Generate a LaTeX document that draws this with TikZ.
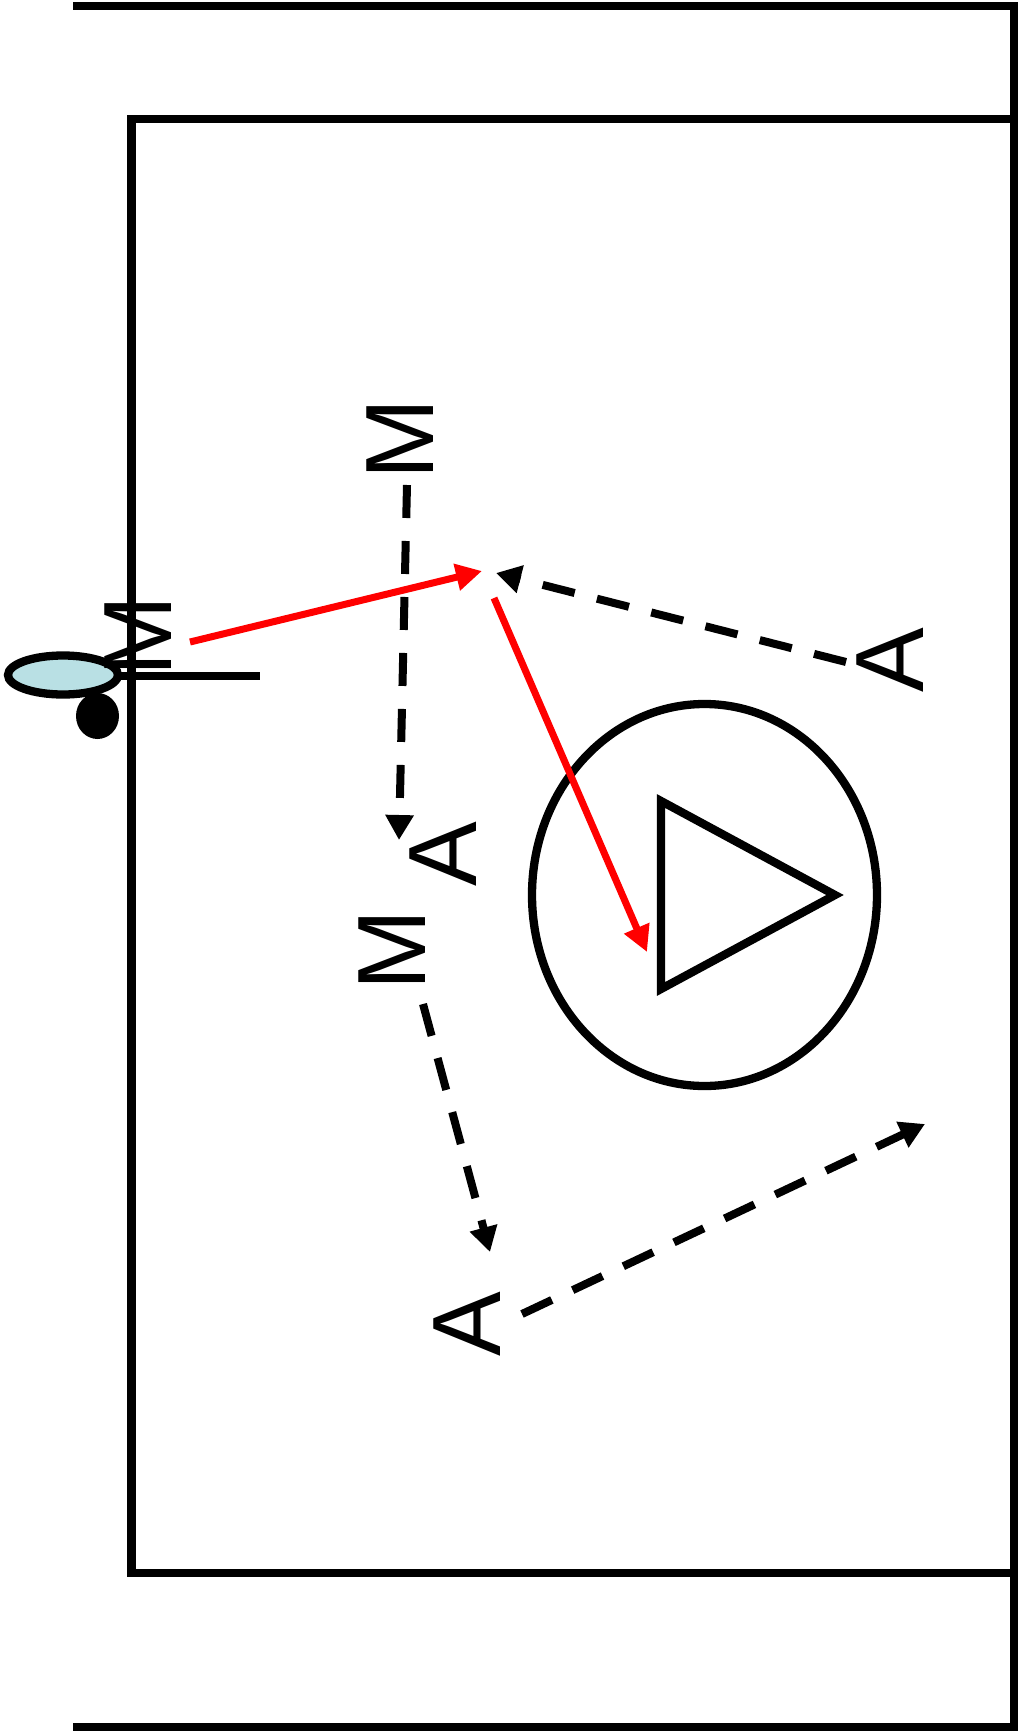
\documentclass[tikz,border=0pt]{standalone}
\usepackage{fontspec}
\setmainfont{Liberation Sans}
\usetikzlibrary{arrows.meta}
\definecolor{stickBlue}{RGB}{185,224,228}

\begin{document}
\begin{tikzpicture}[
    x=1pt, y=-1pt,
    % Style for the field lines
    fieldLine/.style={
        draw=black,
        line width=8.5pt
    },
    % Style for the player letters (turned on their side)
    letterNode/.style={
        inner sep=0pt,
        rotate=90,
        font=\fontsize{97}{100}\selectfont
    },
    % Style for the passes and the shot
    passStyle/.style={
        draw=red,
        line width=7pt,
        -{Triangle[length=26pt,width=26pt]}
    },
    % Style for the runs
    runStyle/.style={
        draw=black,
        line width=8pt,
        dash pattern=on 33pt off 23pt,
        -{Triangle[length=25pt,width=27pt]}
    },
    % Style for the goal and the goalkeeper
    goalStyle/.style={
        draw=black,
        line width=8.3pt
    }
]
    \useasboundingbox (0,0) rectangle (1018,1734);

    % --- FIELD ---
    \draw[fieldLine] (73,6) -- (1014,6) -- (1014,1727) -- (73,1727);
    \draw[fieldLine] (1014,119) -- (131.5,119) -- (131.5,1573) -- (1014,1573);

    % --- GOAL AREA ---
    \draw[goalStyle] (704.5,895) ellipse (172.5pt and 191pt);
    \draw[goalStyle] (661,801) -- (661,989) -- (835,895) -- cycle;

    % --- COACH ---
    \fill[black] (97.5,716) ellipse (21.5pt and 23pt);
    \draw[goalStyle] (118,676) -- (260,676);
    \draw[goalStyle, fill=stickBlue] (63,675) ellipse (55pt and 19.5pt);

    % --- PLAYERS ---
    \node[letterNode] (mLeft) at (138,636) {M};
    \node[letterNode] (mTop) at (400,439) {M};
    \node[letterNode] (aMid) at (443,854) {A};
    \node[letterNode] (mLow) at (392,950) {M};
    \node[letterNode] (aLow) at (467,1324) {A};
    \node[letterNode] (aRight) at (890,660) {A};

    % --- END POINTS ---
    \coordinate (passStart) at (190,642);
    \coordinate (passEnd) at (482,571);
    \coordinate (shotStart) at (494,598);
    \coordinate (shotEnd) at (647,952);
    \coordinate (runOneStart) at (407,485);
    \coordinate (runOneEnd) at (399,840);
    \coordinate (runTwoStart) at (846,662);
    \coordinate (runTwoEnd) at (496,573);
    \coordinate (runThreeStart) at (423,1004);
    \coordinate (runThreeEnd) at (490,1252);
    \coordinate (runFourStart) at (522,1314);
    \coordinate (runFourEnd) at (925,1124);

    % --- PASS AND SHOT ---
    \draw[passStyle] (passStart) -- (passEnd);
    \draw[passStyle] (shotStart) -- (shotEnd);

    % --- RUNS ---
    \draw[runStyle] (runOneStart) -- (runOneEnd);
    \draw[runStyle] (runTwoStart) -- (runTwoEnd);
    \draw[runStyle] (runThreeStart) -- (runThreeEnd);
    \draw[runStyle] (runFourStart) -- (runFourEnd);

\end{tikzpicture}
\end{document}
